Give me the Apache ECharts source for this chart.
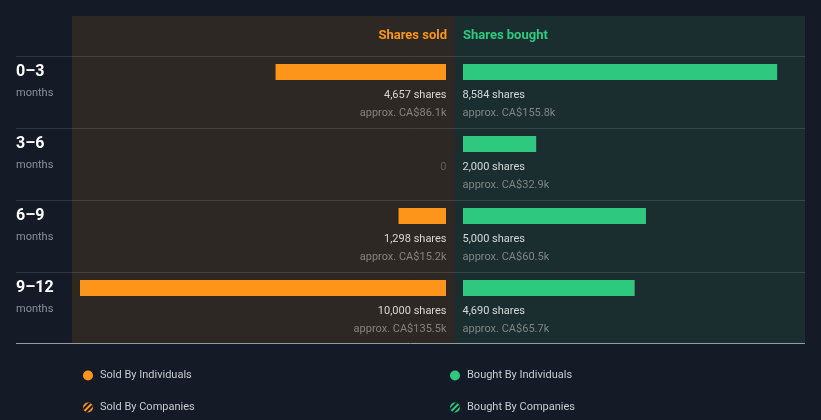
<!DOCTYPE html>
<html><head><meta charset="utf-8">
<script src="https://cdn.jsdelivr.net/npm/echarts@6/dist/echarts.min.js"></script>
<style>html,body{margin:0;padding:0;background:#151b26;}#c{width:821px;height:420px;}</style>
</head><body><div id="c"></div>
<script>
const categories = ['0–3', '3–6', '6–9', '9–12'];
const periodUnit = 'months';
const soldShares = [4657, 0, 1298, 10000];
const boughtShares = [8584, 2000, 5000, 4690];
const soldValue = ['CA$86.1k', null, 'CA$15.2k', 'CA$135.5k'];
const boughtValue = ['CA$155.8k', 'CA$32.9k', 'CA$60.5k', 'CA$65.7k'];
const soldCompanies = [0, 0, 0, 0];
const boughtCompanies = [0, 0, 0, 0];
const axisMax = 10000;

const ORANGE = '#fd951a', GREEN = '#2ec97f';
const FONT = 'Roboto';
const fmt = n => n.toLocaleString('en-US');

// both sides share the same px-per-share scale; right panel is narrower than the full range
const LEFT_W = 366, RIGHT_W = 342;

function labelText(shares, value) {
  if (!shares) return '{z|0}';
  return '{a|' + fmt(shares) + ' shares}\n{b|approx. ' + value + '}';
}
const rich = {
  a: {color: '#ffffff', fontSize: 11, fontFamily: FONT, lineHeight: 18},
  b: {color: '#9a9a9a', fontSize: 11, fontFamily: FONT, lineHeight: 18},
  z: {color: '#6a6a6a', fontSize: 11, fontFamily: FONT, lineHeight: 18}
};

const chart = echarts.init(document.getElementById('c'), null, {renderer: 'canvas'});
const sepY = [56, 128, 200, 272];
const graphics = [
  {type: 'rect', shape: {x: 72, y: 16, width: 383, height: 327}, style: {fill: '#2d2823'}, z: -10, silent: true},
  {type: 'rect', shape: {x: 455, y: 16, width: 350, height: 327}, style: {fill: '#1a2e30'}, z: -10, silent: true},
  {type: 'text', style: {x: 447, y: 36, text: 'Shares sold', fill: ORANGE, font: 'bold 13px Roboto', align: 'right', verticalAlign: 'middle'}, z: 5},
  {type: 'text', style: {x: 463, y: 36, text: 'Shares bought', fill: GREEN, font: 'bold 13px Roboto', align: 'left', verticalAlign: 'middle'}, z: 5},
  {type: 'line', shape: {x1: 16, y1: 343.5, x2: 805, y2: 343.5}, style: {stroke: '#8e9ea3', lineWidth: 1}, z: 5, silent: true}
];
sepY.forEach(y => graphics.push({type: 'line', shape: {x1: 16, y1: y + 0.5, x2: 805, y2: y + 0.5}, style: {stroke: 'rgba(255,255,255,0.12)', lineWidth: 1}, z: -5, silent: true}));

const legendBase = {icon: 'circle', itemWidth: 10, itemHeight: 10, itemGap: 5, padding: 0, selectedMode: false,
  textStyle: {color: '#c6cad0', fontSize: 11, fontFamily: FONT, padding: [0, 0, 0, 2]}};
const decalStripe = c => ({symbol: 'rect', color: c, dashArrayX: [1, 0], dashArrayY: [2, 2], rotation: -Math.PI / 4, symbolSize: 1});

chart.setOption({
  backgroundColor: '#151b26',
  animation: false,
  textStyle: {fontFamily: FONT},
  graphic: graphics,
  legend: [
    Object.assign({}, legendBase, {data: ['Sold By Individuals'], left: 83, top: 370}),
    Object.assign({}, legendBase, {data: ['Bought By Individuals'], left: 450, top: 370}),
    Object.assign({}, legendBase, {data: ['Sold By Companies'], left: 83, top: 402}),
    Object.assign({}, legendBase, {data: ['Bought By Companies'], left: 450, top: 402})
  ],
  grid: [
    {left: 80, top: 36, width: LEFT_W, height: 288},
    {left: 463, top: 36, width: RIGHT_W, height: 288}
  ],
  xAxis: [
    {gridIndex: 0, type: 'value', min: 0, max: axisMax, inverse: true, show: false},
    {gridIndex: 1, type: 'value', min: 0, max: axisMax * RIGHT_W / LEFT_W, show: false}
  ],
  yAxis: [
    {gridIndex: 0, type: 'category', data: categories, inverse: true,
      axisLine: {show: false}, axisTick: {show: false}, splitLine: {show: false},
      axisLabel: {show: true, margin: 64, align: 'left', verticalAlign: 'middle',
        formatter: v => '{p|' + v + '}\n{m|' + periodUnit + '}',
        rich: {
          p: {color: '#ffffff', fontSize: 16, fontWeight: 'bold', fontFamily: FONT, lineHeight: 42},
          m: {color: '#8b9097', fontSize: 11, fontFamily: FONT, lineHeight: 0.5}
        }}},
    {gridIndex: 1, type: 'category', data: categories, inverse: true, show: false}
  ],
  series: [
    {name: 'Sold By Individuals', type: 'bar', xAxisIndex: 0, yAxisIndex: 0, stack: 's', barWidth: 16,
      data: soldShares, itemStyle: {color: ORANGE}},
    {name: 'Sold By Companies', type: 'bar', xAxisIndex: 0, yAxisIndex: 0, stack: 's', barWidth: 16,
      data: soldCompanies, itemStyle: {color: ORANGE, decal: decalStripe('#151b26')}},
    {name: 'Bought By Individuals', type: 'bar', xAxisIndex: 1, yAxisIndex: 1, stack: 'b', barWidth: 16,
      data: boughtShares, itemStyle: {color: GREEN}},
    {name: 'Bought By Companies', type: 'bar', xAxisIndex: 1, yAxisIndex: 1, stack: 'b', barWidth: 16,
      data: boughtCompanies, itemStyle: {color: GREEN, decal: decalStripe('#151b26')}},
    {type: 'scatter', xAxisIndex: 0, yAxisIndex: 0, symbolSize: 1, clip: false, silent: true,
      itemStyle: {color: 'rgba(0,0,0,0)'},
      data: categories.map((c, i) => [0, c]),
      label: {show: true, position: [1, 15], align: 'right', verticalAlign: 'top',
        formatter: p => labelText(soldShares[p.dataIndex], soldValue[p.dataIndex]), rich: rich}},
    {type: 'scatter', xAxisIndex: 1, yAxisIndex: 1, symbolSize: 1, clip: false, silent: true,
      itemStyle: {color: 'rgba(0,0,0,0)'},
      data: categories.map((c, i) => [0, c]),
      label: {show: true, position: [0, 15], align: 'left', verticalAlign: 'top',
        formatter: p => labelText(boughtShares[p.dataIndex], boughtValue[p.dataIndex]), rich: rich}}
  ]
});
</script></body></html>
